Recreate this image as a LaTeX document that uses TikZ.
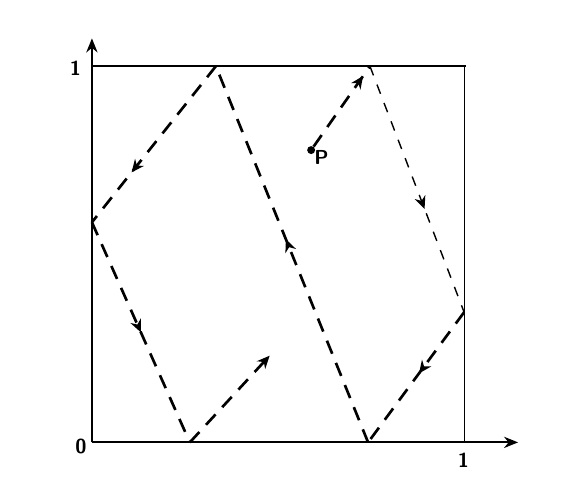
\documentclass[tikz,border=0pt]{standalone}
\usetikzlibrary{arrows.meta,decorations.markings}

\begin{document}
\begin{tikzpicture}[x=9.3cm, y=9.4cm,
  axis/.style   = {line width=1.3pt, -{Stealth[length=10pt,width=8pt]}},
  wall/.style   = {line width=0.7pt},
  bounce/.style = {line width=1.9pt, dash pattern=on 10pt off 7pt},
  thinbounce/.style = {line width=1.0pt, dash pattern=on 7pt off 7pt},
  midarrow/.style = {postaction={decorate},
                     decoration={markings,
                       mark=at position #1 with {\arrow[solid]{Stealth[length=9pt,width=8pt]}}}},
  lbl/.style    = {font=\sffamily\bfseries\Large, inner sep=1pt},
]
\useasboundingbox (-0.247,-0.112) rectangle (1.263,1.176);

%% axes and table
\coordinate (O) at (0,0);
\draw[axis] (O) -- (0,1.074);
\draw[axis] (O) -- (1.145,0);
\draw[line width=1.4pt] (0,1) -- (1.005,1);
\draw[wall] (1,1) -- (1,0);

\node[lbl, anchor=east] (zero) at (-0.01,-0.012) {0};
\node[lbl, anchor=east] (oney) at (-0.025,0.995) {1};
\node[lbl, anchor=north] (onex) at (0.998,-0.025) {1};

%% bounce points
\node[circle, fill, inner sep=2pt] (P) at (0.589,0.777) {};
\node[lbl, anchor=north west] at ([xshift=-1pt,yshift=3pt]P.south east) {P};
\coordinate (t1) at (0.747,1);
\coordinate (r1) at (1,0.346);
\coordinate (b1) at (0.742,0);
\coordinate (t2) at (0.333,1);
\coordinate (l1) at (0,0.585);
\coordinate (b2) at (0.263,0);
\coordinate (e)  at (0.478,0.231);

%% trajectory
\draw[bounce, midarrow=0.88] (P) -- (t1);
\draw[thinbounce, midarrow=0.58] (t1) -- (r1);
\draw[bounce, midarrow=0.47] (r1) -- (b1);
\draw[bounce, midarrow=0.54] (b1) -- (t2);
\draw[bounce, midarrow=0.68] (t2) -- (l1);
\draw[bounce, midarrow=0.5] (l1) -- (b2);
\draw[bounce, midarrow=1] (b2) -- (e);

\end{tikzpicture}
\end{document}
